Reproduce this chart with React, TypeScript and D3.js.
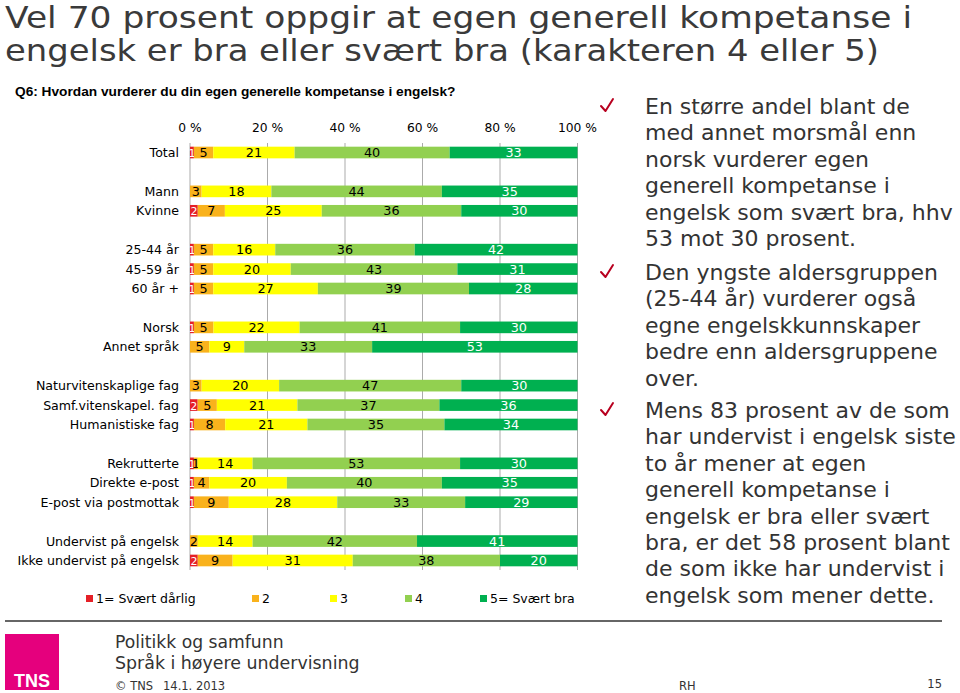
import React from "react";
import * as d3 from "d3";

const titleLines = [
  "Vel 70 prosent oppgir at egen generell kompetanse i",
  "engelsk er bra eller svært bra (karakteren 4 eller 5)",
];
const subtitle = "Q6: Hvordan vurderer du din egen generelle kompetanse i engelsk?";

const categories = [
  "Total",
  "Mann", "Kvinne",
  "25-44 år", "45-59 år", "60 år +",
  "Norsk", "Annet språk",
  "Naturvitenskaplige fag", "Samf.vitenskapel. fag", "Humanistiske fag",
  "Rekrutterte", "Direkte e-post", "E-post via postmottak",
  "Undervist på engelsk", "Ikke undervist på engelsk",
];
const groupSizes = [1, 2, 3, 2, 3, 3, 2];

const seriesNames = ["1= Svært dårlig", "2", "3", "4", "5= Svært bra"];
const s1 = [1, 0, 2, 1, 1, 1, 1, 0, 0, 2, 1, 1, 1, 1, 0, 2];
const s2 = [5, 3, 7, 5, 5, 5, 5, 5, 3, 5, 8, 1, 4, 9, 2, 9];
const s3 = [21, 18, 25, 16, 20, 27, 22, 9, 20, 21, 21, 14, 20, 28, 14, 31];
const s4 = [40, 44, 36, 36, 43, 39, 41, 33, 47, 37, 35, 53, 40, 33, 42, 38];
const s5 = [33, 35, 30, 42, 31, 28, 30, 53, 30, 36, 34, 30, 35, 29, 41, 20];
const xTicks = [0, 20, 40, 60, 80, 100];

const colors = ["#E52027", "#F9B21C", "#FFFF00", "#92D050", "#00B050"];
const labelColors = ["#ffffff", "#000000", "#000000", "#000000", "#ffffff"];

const bullets = [
  [
    "En større andel blant de",
    "med annet morsmål enn",
    "norsk vurderer egen",
    "generell kompetanse i",
    "engelsk som svært bra, hhv",
    "53 mot 30 prosent.",
  ],
  [
    "Den yngste aldersgruppen",
    "(25-44 år) vurderer også",
    "egne engelskkunnskaper",
    "bedre enn aldersgruppene",
    "over.",
  ],
  [
    "Mens 83 prosent av de som",
    "har undervist i engelsk siste",
    "to år mener at egen",
    "generell kompetanse i",
    "engelsk er bra eller svært",
    "bra, er det 58 prosent blant",
    "de som ikke har undervist i",
    "engelsk som mener dette.",
  ],
];

const legendX = [86, 252, 330, 405, 480];

export default function App() {
  const series = [s1, s2, s3, s4, s5];
  const rows = categories.map((c, i) => {
    const o: any = { cat: c };
    series.forEach((s, k) => (o["k" + k] = s[i]));
    return o;
  });
  const keys = series.map((_, k) => "k" + k);
  const stacked = d3.stack().keys(keys).offset(d3.stackOffsetExpand)(rows);

  const slots: number[] = [];
  let idx = 0;
  groupSizes.forEach((g, gi) => {
    for (let j = 0; j < g; j++) slots.push(idx++);
    if (gi < groupSizes.length - 1) idx++;
  });
  const nSlots = idx;

  const x = d3.scaleLinear().domain([0, 1]).range([190, 577.5]);
  const y = d3
    .scaleBand<number>()
    .domain(d3.range(nSlots))
    .range([142.8, 570.2])
    .paddingInner(0.4)
    .paddingOuter(0.2);

  const font = "'DejaVu Sans', Verdana, sans-serif";

  const bulletTop = [114, 280, 418];
  const lh = 26.4;
  const titleLen = [907, 874];

  return (
    <svg width={960} height={693} style={{ position: "absolute", left: 0, top: 0 }}>
      <rect width={960} height={693} fill="#fff" />
      {titleLines.map((t, i) => (
        <text
          key={i}
          x={5}
          y={28 + i * 32.5}
          fontFamily={font}
          fontSize={31}
          fill="#3a3a3a"
          textLength={titleLen[i]}
          lengthAdjust="spacingAndGlyphs"
        >
          {t}
        </text>
      ))}
      <text x={15} y={96} fontFamily="'Liberation Sans', Arial, sans-serif" fontWeight="bold" fontSize={13.7} fill="#000">
        {subtitle}
      </text>

      {xTicks.map((t) => (
        <g key={t}>
          <line x1={x(t / 100)} x2={x(t / 100)} y1={143} y2={570} stroke="#ababab" strokeWidth={1} />
          <text x={x(t / 100)} y={132} textAnchor="middle" fontFamily={font} fontSize={12.3} fill="#000">
            {t} %
          </text>
        </g>
      ))}

      {stacked.map((layer, k) => (
        <g key={k}>
          {layer.map((d, i) => {
            const y0 = y(slots[i])!;
            const bw = y.bandwidth();
            const x0 = x(d[0]);
            const x1 = x(d[1]);
            const v = series[k][i];
            return (
              <g key={i}>
                <rect x={x0} y={y0} width={Math.max(0, x1 - x0)} height={bw} fill={colors[k]} />
                {v > 0 && (
                  <text
                    x={(x0 + x1) / 2}
                    y={y0 + bw / 2 + 4.6}
                    textAnchor="middle"
                    fontFamily={font}
                    fontSize={k === 0 ? 11 : 12.8}
                    fill={labelColors[k]}
                  >
                    {v}
                  </text>
                )}
              </g>
            );
          })}
        </g>
      ))}

      {categories.map((c, i) => (
        <text
          key={c}
          x={179}
          y={y(slots[i])! + y.bandwidth() / 2 + 4.6}
          textAnchor="end"
          fontFamily={font}
          fontSize={12.6}
          fill="#000"
        >
          {c}
        </text>
      ))}

      {seriesNames.map((n, k) => (
        <g key={n}>
          <rect x={legendX[k]} y={595} width={7} height={7} fill={colors[k]} />
          <text x={legendX[k] + 10} y={602.5} fontFamily={font} fontSize={12.5} fill="#000">
            {n}
          </text>
        </g>
      ))}

      {bullets.map((para, p) => (
        <g key={p}>
          <path
            d={`M601,${bulletTop[p] - 8} L605.5,${bulletTop[p] - 3} L613,${bulletTop[p] - 15}`}
            fill="none"
            stroke="#B8001F"
            strokeWidth={2}
            strokeLinecap="round"
            strokeLinejoin="round"
          />
          {para.map((line, j) => (
            <text key={j} x={645} y={bulletTop[p] + j * lh} fontFamily={font} fontSize={22} fill="#333">
              {line}
            </text>
          ))}
        </g>
      ))}

      <line x1={5} x2={942} y1={621} y2={621} stroke="#666" strokeWidth={2} />
      <rect x={5} y={634} width={54} height={56} fill="#E5007D" />
      <text x={32} y={687} textAnchor="middle" fontFamily="'Liberation Sans', Arial, sans-serif" fontWeight="bold" fontSize={18} fill="#fff">
        TNS
      </text>
      <text x={115} y={648} fontFamily={font} fontSize={17.2} fill="#333">
        Politikk og samfunn
      </text>
      <text x={115} y={669} fontFamily={font} fontSize={17.4} fill="#333">
        Språk i høyere undervisning
      </text>
      <text x={115} y={690} fontFamily={font} fontSize={11.5} fill="#333">
        © TNS
      </text>
      <text x={163} y={690} fontFamily={font} fontSize={11.5} fill="#333">
        14.1. 2013
      </text>
      <text x={679} y={690} fontFamily={font} fontSize={11.5} fill="#333">
        RH
      </text>
      <text x={942} y={688} textAnchor="end" fontFamily={font} fontSize={11.5} fill="#333">
        15
      </text>
    </svg>
  );
}
